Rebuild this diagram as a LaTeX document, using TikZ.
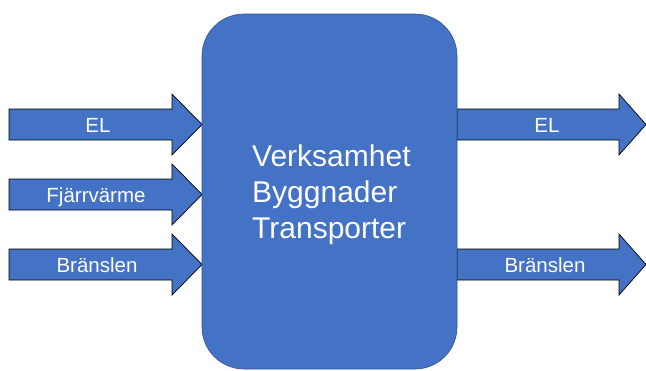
\documentclass[tikz,border=0pt]{standalone}
\usepackage{fontspec}
\setmainfont{Liberation Sans}
\definecolor{boxblue}{HTML}{4472C4}
\definecolor{boxedge}{HTML}{2F528F}

% one block arrow: start x, shaft end x, tip x, middle y
\newcommand{\flowarrow}[4]{%
  \draw[arrowbody] (#1,#4-15.5) -- (#2,#4-15.5) -- (#2,#4-30.5) -- (#3,#4)
    -- (#2,#4+30.5) -- (#2,#4+15.5) -- (#1,#4+15.5) -- cycle;}

\tikzset{
  arrowbody/.style={fill=boxblue, draw=black, line width=0.7pt, line join=miter},
  flowlabel/.style={text=white, font=\fontsize{20.5}{24}\selectfont, inner sep=0pt, anchor=base},
  boxlabel/.style={text=white, font=\fontsize{30}{36}\selectfont, inner sep=0pt, anchor=base west}
}

\begin{document}
\begin{tikzpicture}[x=1pt,y=-1pt]
  \useasboundingbox (0,0) rectangle (646,370);

  % Incoming arrows
  \flowarrow{9}{172}{202}{124.5}
  \node[flowlabel] (elIn) at (98,132.7) {EL};
  \flowarrow{9}{172}{202}{194.5}
  \node[flowlabel] (heatIn) at (96,202.7) {Fjärrvärme};
  \flowarrow{9}{172}{202}{264.5}
  \node[flowlabel] (fuelIn) at (97,272.7) {Bränslen};

  % Outgoing arrows
  \flowarrow{457}{619}{646}{124.5}
  \node[flowlabel] (elOut) at (547,132.7) {EL};
  \flowarrow{457}{619}{646}{264.5}
  \node[flowlabel] (fuelOut) at (545,272.7) {Bränslen};

  % The organisation in the middle
  \draw[fill=boxblue, draw=boxedge, line width=0.6pt, rounded corners=42pt] (202,14) rectangle (457,369);
  \node[boxlabel] (ops) at (252,166) {Verksamhet};
  \node[boxlabel] (bldg) at (252,202.5) {Byggnader};
  \node[boxlabel] (trans) at (252,238.5) {Transporter};
\end{tikzpicture}
\end{document}
